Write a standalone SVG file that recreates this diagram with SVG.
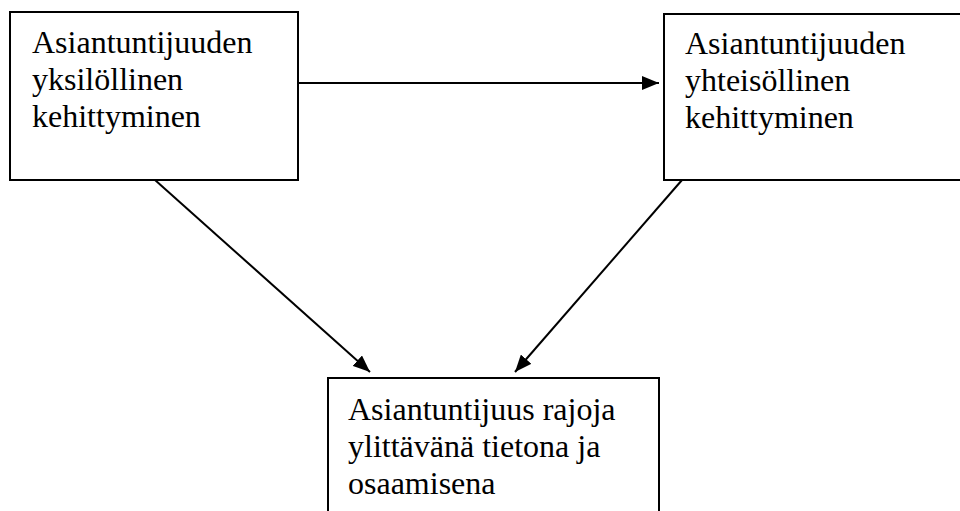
<svg xmlns="http://www.w3.org/2000/svg" width="960" height="511" viewBox="0 0 960 511">
<style>
.box{fill:#fff;stroke:#000;stroke-width:2}
.t{font-family:"Liberation Serif","Times New Roman",serif;font-size:32px;fill:#000}
.c{stroke:#000;stroke-width:2;fill:none}
</style>
<defs>
<marker id="ah" viewBox="0 0 17 14" refX="17" refY="7" markerWidth="17" markerHeight="14" markerUnits="userSpaceOnUse" orient="auto">
<path d="M0,0 L17,7 L0,14 Z" fill="#000"/>
</marker>
</defs>
<rect width="960" height="511" fill="#fff"/>
<g id="node-left">
<rect class="box" x="10" y="12" width="288" height="168"/>
<text class="t" x="32" y="53">Asiantuntijuuden</text>
<text class="t" x="32" y="90">yksilöllinen</text>
<text class="t" x="32" y="127">kehittyminen</text>
</g>
<g id="node-right">
<rect class="box" x="664" y="14" width="300" height="166"/>
<text class="t" x="685" y="54">Asiantuntijuuden</text>
<text class="t" x="685" y="91">yhteisöllinen</text>
<text class="t" x="685" y="128">kehittyminen</text>
</g>
<g id="node-bottom">
<rect class="box" x="328" y="378" width="331" height="140"/>
<text class="t" x="348" y="420">Asiantuntijuus rajoja</text>
<text class="t" x="348" y="457">ylittävänä tietona ja</text>
<text class="t" x="348" y="494">osaamisena</text>
</g>
<g id="connectors">
<line class="c" x1="298" y1="83" x2="659" y2="83" marker-end="url(#ah)"/>
<line class="c" x1="155" y1="180" x2="370" y2="372" marker-end="url(#ah)"/>
<line class="c" x1="682" y1="180" x2="515" y2="372" marker-end="url(#ah)"/>
</g>
</svg>
